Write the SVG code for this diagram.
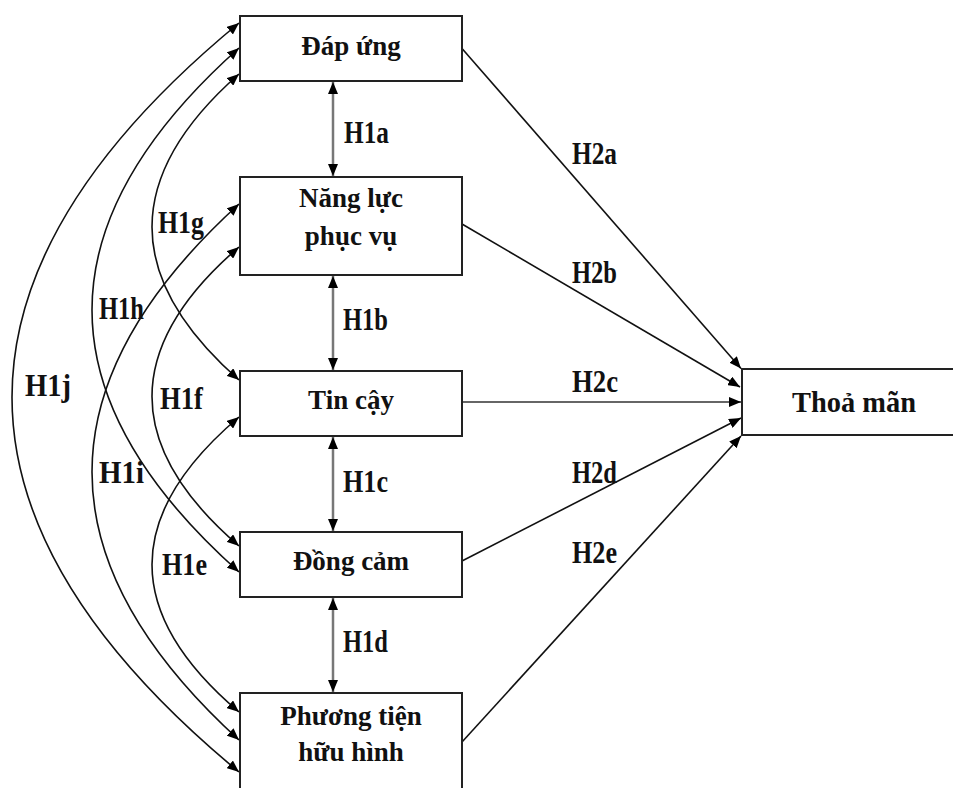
<svg xmlns="http://www.w3.org/2000/svg" width="953" height="788" viewBox="0 0 953 788">
<style>
.box{fill:#fff;stroke:#222;stroke-width:2}
.t{font-family:"Liberation Serif","Times New Roman",serif;font-weight:bold;font-size:27px;fill:#111;text-anchor:middle}
.lbl{font-family:"Liberation Serif","Times New Roman",serif;font-weight:bold;font-size:31px;fill:#111}
.c{fill:none;stroke:#111;stroke-width:1.6;marker-end:url(#ah)}
.cc{fill:none;stroke:#111;stroke-width:1.6;marker-start:url(#ah);marker-end:url(#ah)}
.v{fill:none;stroke:#777;stroke-width:2.5;marker-start:url(#ah);marker-end:url(#ah)}
</style>
<defs>
<marker id="ah" markerUnits="userSpaceOnUse" markerWidth="12" markerHeight="10" refX="12" refY="5" orient="auto-start-reverse" viewBox="0 0 12 10">
<path d="M0,0 L12,5 L0,10 z" fill="#000"/>
</marker>
</defs>
<rect width="953" height="788" fill="#fff"/>
<g id="connectors">
<path class="v" d="M333,82 L333,176"/>
<path class="v" d="M333,276 L333,370"/>
<path class="v" d="M333,437 L333,531"/>
<path class="v" d="M333,598 L333,692"/>
<path class="cc" d="M239,74 Q65,227 239,380"/>
<path class="cc" d="M239,48 Q-55,310 239,572"/>
<path class="cc" d="M239,23 Q-215,397 239,772"/>
<path class="cc" d="M239,247 Q65,396.5 239,546"/>
<path class="cc" d="M239,204 Q-55,472 239,740"/>
<path class="cc" d="M239,417 Q65,564.5 239,712"/>
<path class="c" d="M462,48.5 L741,368.5"/>
<path class="c" d="M462,224 L740,387"/>
<path class="c" d="M462,402 L741,402" style="stroke:#666;stroke-width:2"/>
<path class="c" d="M462,561 L741,418"/>
<path class="c" d="M462,742 L741,436"/>
</g>
<g id="labels">
<text class="lbl" x="344" y="143" textLength="45" lengthAdjust="spacingAndGlyphs">H1a</text>
<text class="lbl" x="343" y="330" textLength="45" lengthAdjust="spacingAndGlyphs">H1b</text>
<text class="lbl" x="343" y="492" textLength="45" lengthAdjust="spacingAndGlyphs">H1c</text>
<text class="lbl" x="343" y="652" textLength="45" lengthAdjust="spacingAndGlyphs">H1d</text>
<text class="lbl" x="158" y="233" textLength="46" lengthAdjust="spacingAndGlyphs">H1g</text>
<text class="lbl" x="99" y="319" textLength="45" lengthAdjust="spacingAndGlyphs">H1h</text>
<text class="lbl" x="25" y="396" textLength="46" lengthAdjust="spacingAndGlyphs">H1j</text>
<text class="lbl" x="160" y="409" textLength="43" lengthAdjust="spacingAndGlyphs">H1f</text>
<text class="lbl" x="99" y="483" textLength="45" lengthAdjust="spacingAndGlyphs">H1i</text>
<text class="lbl" x="162" y="575" textLength="45" lengthAdjust="spacingAndGlyphs">H1e</text>
<text class="lbl" x="572" y="164" textLength="45" lengthAdjust="spacingAndGlyphs">H2a</text>
<text class="lbl" x="572" y="283" textLength="45" lengthAdjust="spacingAndGlyphs">H2b</text>
<text class="lbl" x="572" y="392" textLength="46" lengthAdjust="spacingAndGlyphs">H2c</text>
<text class="lbl" x="572" y="483" textLength="45" lengthAdjust="spacingAndGlyphs">H2d</text>
<text class="lbl" x="572" y="563" textLength="45" lengthAdjust="spacingAndGlyphs">H2e</text>
</g>
<g id="dap-ung">
<rect class="box" x="240" y="16" width="222" height="65"/>
<text class="t" x="351" y="55">Đáp ứng</text>
</g>
<g id="nang-luc">
<rect class="box" x="240" y="177" width="222" height="98"/>
<text class="t" x="351" y="207">Năng lực</text>
<text class="t" x="351" y="245">phục vụ</text>
</g>
<g id="tin-cay">
<rect class="box" x="240" y="371" width="222" height="65"/>
<text class="t" x="351" y="409">Tin cậy</text>
</g>
<g id="dong-cam">
<rect class="box" x="240" y="532" width="222" height="65"/>
<text class="t" x="351" y="570">Đồng cảm</text>
</g>
<g id="phuong-tien">
<rect class="box" x="240" y="693" width="222" height="120"/>
<text class="t" x="351" y="725">Phương tiện</text>
<text class="t" x="351" y="761">hữu hình</text>
</g>
<g id="thoa-man">
<rect class="box" x="742" y="369" width="240" height="66"/>
<text class="t" x="854" y="411.5" style="font-size:30px" textLength="124" lengthAdjust="spacingAndGlyphs">Thoả mãn</text>
</g>
</svg>
